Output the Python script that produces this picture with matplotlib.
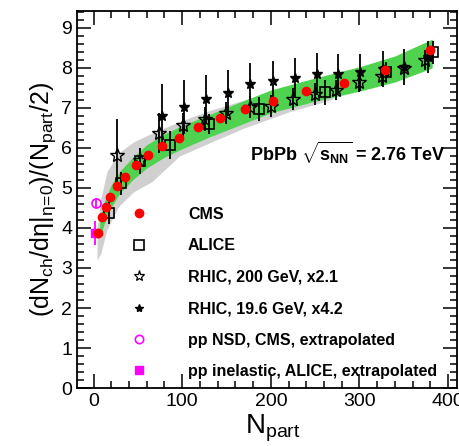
import matplotlib
matplotlib.use("Agg")
import matplotlib.pyplot as plt
from matplotlib.lines import Line2D
from matplotlib.ticker import MultipleLocator

plt.rcParams['font.family'] = ['Liberation Sans', 'DejaVu Sans']
plt.rcParams['mathtext.fontset'] = 'custom'
plt.rcParams['mathtext.rm'] = 'Liberation Sans'
plt.rcParams['mathtext.it'] = 'Liberation Sans'
plt.rcParams['mathtext.bf'] = 'Liberation Sans:bold'

# ---- data ----
cms_x = [5.6, 9.5, 14, 19, 27, 36, 48, 61, 77, 96, 118, 143, 171, 203, 240, 283, 329, 380]
cms_y = [3.87, 4.27, 4.53, 4.78, 5.06, 5.28, 5.58, 5.82, 6.06, 6.26, 6.53, 6.76, 6.98, 7.18, 7.43, 7.63, 7.95, 8.45]

alice_x = [17, 31, 53, 86, 130, 187, 261, 330, 383]
alice_y = [4.37, 5.12, 5.67, 6.08, 6.6, 6.98, 7.39, 7.91, 8.39]
alice_err = [0.28, 0.29, 0.33, 0.35, 0.25, 0.3, 0.31, 0.25, 0.29]

rhic200_x = [26, 53, 74, 101, 126, 150, 177, 200, 225, 250, 274, 300, 325, 350, 374]
rhic200_y = [5.83, 5.7, 6.37, 6.58, 6.73, 6.87, 7.03, 7.05, 7.22, 7.35, 7.45, 7.66, 7.8, 7.99, 8.2]
rhic200_err = [0.9, 0.3, 0.5, 0.3, 0.3, 0.28, 0.28, 0.27, 0.27, 0.27, 0.26, 0.26, 0.25, 0.28, 0.25]

rhic19_x = [77, 102, 127, 152, 177, 202, 227, 252, 276, 301, 326, 350, 377]
rhic19_y = [6.8, 7.03, 7.22, 7.38, 7.6, 7.68, 7.76, 7.85, 7.85, 7.89, 7.98, 8.03, 8.27]
rhic19_err = [0.8, 0.67, 0.6, 0.57, 0.53, 0.5, 0.5, 0.52, 0.5, 0.47, 0.45, 0.45, 0.4]

ppnsd_x = [3.0]
ppnsd_y = [4.62]
ppnsd_err = [0.13]

ppinel_x = [1.2]
ppinel_y = [3.87]
ppinel_err = [0.3]

green_x = [7, 12, 20, 30, 45, 60, 80, 100, 130, 160, 200, 250, 300, 340, 382]
green_lo = [3.75, 4.1, 4.52, 4.88, 5.22, 5.5, 5.77, 5.98, 6.27, 6.53, 6.88, 7.17, 7.42, 7.65, 8.0]
green_hi = [4.2, 4.65, 5.08, 5.43, 5.78, 6.08, 6.35, 6.56, 6.83, 7.1, 7.45, 7.75, 8.03, 8.3, 8.72]

gray_x = [4, 8, 15, 28, 45, 66, 97, 130, 170, 220, 270]
gray_lo = [3.2, 3.35, 3.95, 4.53, 4.9, 5.16, 5.8, 6.12, 6.5, 6.9, 7.22]
gray_hi = [4.0, 4.7, 5.4, 5.87, 6.15, 6.37, 6.66, 6.93, 7.2, 7.55, 7.85]

labels = ['CMS', 'ALICE', 'RHIC, 200 GeV, x2.1', 'RHIC, 19.6 GeV, x4.2',
          'pp NSD, CMS, extrapolated', 'pp inelastic, ALICE, extrapolated']

# ---- figure ----
fig = plt.figure(figsize=(4.59, 4.46), dpi=100)
ax = fig.add_axes([0.168, 0.130, 0.8276, 0.845])

ax.fill_between(gray_x, gray_lo, gray_hi, color='#d0d0d0', lw=0, zorder=1)
ax.fill_between(green_x, green_lo, green_hi, color='#4fd24f', lw=0, zorder=2)

eb = dict(fmt='none', ecolor='black', elinewidth=1.3, capsize=0, zorder=3)
ax.errorbar(rhic19_x, rhic19_y, yerr=rhic19_err, **eb)
ax.errorbar(rhic200_x, rhic200_y, yerr=rhic200_err, **eb)
ax.errorbar(alice_x, alice_y, yerr=alice_err, **eb)
ax.errorbar(ppnsd_x, ppnsd_y, yerr=ppnsd_err, fmt='none', ecolor='#ff00ff', elinewidth=1.3, capsize=0, zorder=3)
ax.errorbar(ppinel_x, ppinel_y, yerr=ppinel_err, fmt='none', ecolor='#ff00ff', elinewidth=1.3, capsize=0, zorder=3)

ax.plot(rhic19_x, rhic19_y, ls='none', marker='*', ms=7, mfc='black', mec='black', zorder=4)
ax.plot(rhic200_x, rhic200_y, ls='none', marker='*', ms=10, mfc='none', mec='black', mew=1.0, zorder=4)
ax.plot(alice_x, alice_y, ls='none', marker='s', ms=7.5, mfc='none', mec='black', mew=1.2, zorder=5)
ax.plot(ppnsd_x, ppnsd_y, ls='none', marker='o', ms=6.5, mfc='none', mec='#ff00ff', mew=1.2, zorder=5)
ax.plot(ppinel_x, ppinel_y, ls='none', marker='s', ms=6, mfc='#ff00ff', mec='#ff00ff', zorder=5)
ax.plot(cms_x, cms_y, ls='none', marker='o', ms=6, mfc='#ff0000', mec='#ff0000', zorder=6)

ax.set_xlim(-18.5, 410)
ax.set_ylim(0, 9.42)

ax.xaxis.set_major_locator(MultipleLocator(100))
ax.xaxis.set_minor_locator(MultipleLocator(20))
ax.yaxis.set_major_locator(MultipleLocator(1))
ax.yaxis.set_minor_locator(MultipleLocator(0.2))
ax.tick_params(which='both', direction='in', top=True, right=True, width=1.1, labelsize=14)
ax.tick_params(which='major', length=10)
ax.tick_params(which='minor', length=5)
for s in ax.spines.values():
    s.set_linewidth(1.3)

ax.set_xlabel(r'$\mathrm{N}_{\mathrm{part}}$', fontsize=20, labelpad=0)
ax.xaxis.set_label_coords(0.515, -0.065)
ax.set_ylabel(r'$(\mathrm{dN}_{\mathrm{ch}}/\mathrm{d}\eta|_{\eta\!=\!0})/(\mathrm{N}_{\mathrm{part}}/2)$',
              fontsize=18, labelpad=2)

ax.text(0.97, 0.625, r'PbPb $\sqrt{\mathbf{s}_{\mathbf{NN}}}$ = 2.76 TeV', transform=ax.transAxes,
        ha='right', va='center', fontsize=13, fontweight='bold')

handles = [
    Line2D([], [], ls='none', marker='o', ms=6, mfc='#ff0000', mec='#ff0000'),
    Line2D([], [], ls='none', marker='s', ms=6.5, mfc='none', mec='black', mew=1.2),
    Line2D([], [], ls='none', marker='*', ms=8, mfc='none', mec='black', mew=0.9),
    Line2D([], [], ls='none', marker='*', ms=6, mfc='black', mec='black'),
    Line2D([], [], ls='none', marker='o', ms=6, mfc='none', mec='#ff00ff', mew=1.2),
    Line2D([], [], ls='none', marker='s', ms=6, mfc='#ff00ff', mec='#ff00ff'),
]
leg = ax.legend(handles, labels, loc='upper left', bbox_to_anchor=(0.142, 0.481), frameon=False,
                prop={'weight': 'bold', 'size': 11.5}, handlelength=1.0, handletextpad=2.56,
                labelspacing=1.03, borderaxespad=0, borderpad=0)

fig.savefig('out.png', dpi=100)
